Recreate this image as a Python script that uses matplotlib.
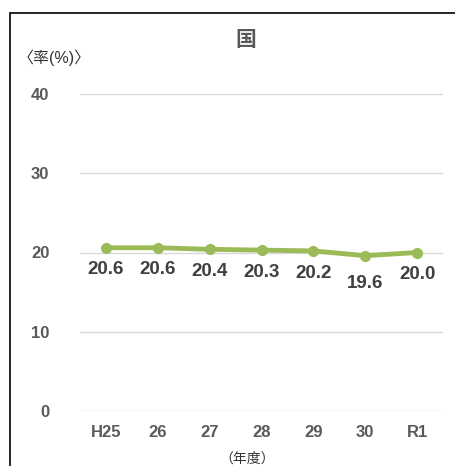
import matplotlib
matplotlib.use('Agg')
import matplotlib.pyplot as plt
from matplotlib.patches import Rectangle

# data
years = ['H25', '26', '27', '28', '29', '30', 'R1']
rates = [20.6, 20.6, 20.4, 20.3, 20.2, 19.6, 20.0]
yticks = [0, 10, 20, 30, 40]

plt.rcParams['font.family'] = ['Liberation Sans', 'Noto Sans CJK JP', 'DejaVu Sans']

fig = plt.figure(figsize=(4.56, 4.66), dpi=100)
ax = fig.add_axes([80/456, 1 - 411/466, 363/456, 317/466])

# outer frame, open on right and bottom like the crop
fig.patches.append(Rectangle((10/456, -0.05), 1.0, 1 - 13/466 + 0.05,
                             transform=fig.transFigure, fill=False,
                             edgecolor='black', linewidth=1.2))

x = range(len(years))
ax.plot(x, rates, color='#9BBB59', linewidth=3.5, marker='o', markersize=7,
        zorder=3)
for i, v in enumerate(rates):
    off = -16 if v >= 20 else -20
    ax.annotate(f'{v:.1f}', (i, v), xytext=(0, off), textcoords='offset points',
                ha='center', va='center', fontsize=13.5, fontweight='bold',
                color='#404040')

ax.set_xlim(-0.5, len(years) - 0.5)
ax.set_ylim(0, 40)
ax.set_yticks(yticks)
ax.set_xticks(list(x))
ax.set_xticklabels(years)
ax.grid(axis='y', color='#D9D9D9', linewidth=1)
ax.set_axisbelow(True)
for s in ax.spines.values():
    s.set_visible(False)
ax.tick_params(length=0, labelsize=12, labelcolor='#595959', pad=10)
for lab in ax.get_xticklabels() + ax.get_yticklabels():
    lab.set_fontweight('bold')
ax.tick_params(axis='y', pad=22)

fig.text(246/456, 1 - 40/466, '国', ha='center', va='center', fontsize=15,
         fontweight='bold', color='#595959')
fig.text(18/456, 1 - 58/466, '〈率(%)〉', ha='left', va='center', fontsize=11.5,
         color='#333333')
fig.text(247/456, 1 - 459/466, '（年度）', ha='center', va='center', fontsize=10,
         color='#333333')

fig.savefig('out.png', dpi=100)
